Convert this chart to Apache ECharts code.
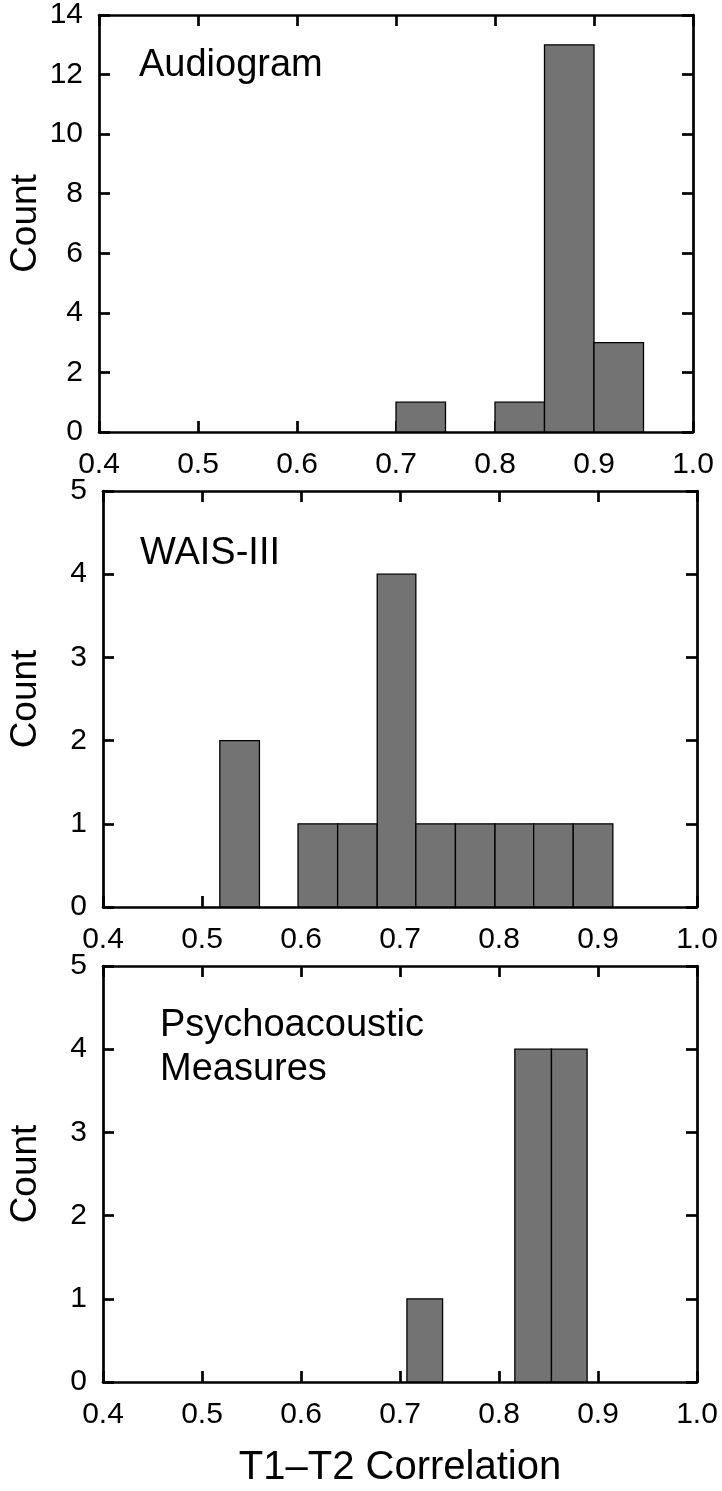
<!DOCTYPE html>
<html>
<head>
<meta charset="utf-8">
<script src="https://cdn.jsdelivr.net/npm/echarts@6/dist/echarts.min.js"></script>
<style>
html,body{margin:0;padding:0;background:#fff;}
#c{width:722px;height:1491px;}
</style>
</head>
<body>
<div id="c"></div>
<script>
// ---- data ----
var xTicks = [0.4, 0.5, 0.6, 0.7, 0.8, 0.9, 1.0];
var panelLabels = ['Audiogram', 'WAIS-III', 'Psychoacoustic\nMeasures'];
var yMax = [14, 5, 5];
var yStep = [2, 1, 1];

// Audiogram histogram (bin edges, counts)
var audiogramEdges = [0.70, 0.75, 0.80, 0.85, 0.90, 0.95];
var audiogramCounts = [1, 0, 1, 13, 3];

// WAIS-III histogram
var waisEdges = [0.518, 0.558, 0.597, 0.637, 0.677, 0.716, 0.756, 0.796, 0.835, 0.875, 0.915];
var waisCounts = [2, 0, 1, 1, 4, 1, 1, 1, 1, 1];

// Psychoacoustic measures histogram
var psychoEdges = [0.707, 0.743, 0.780, 0.816, 0.853, 0.889];
var psychoCounts = [1, 0, 0, 4, 4];

var xTitle = 'T1\u2013T2 Correlation';
var yTitle = 'Count';

// ---- layout ----
var FONT = 'Liberation Sans, Arial, Helvetica, sans-serif';
var grids = [
  {left: 99, top: 15, width: 594, height: 417, outerBoundsMode: 'none', containLabel: false},
  {left: 103, top: 491, width: 594, height: 416, outerBoundsMode: 'none', containLabel: false},
  {left: 103, top: 966, width: 594, height: 416, outerBoundsMode: 'none', containLabel: false}
];
var LINE = 2.7;

function binsData(edges, counts) {
  var d = [];
  for (var i = 0; i < counts.length; i++) {
    if (counts[i] > 0) d.push([edges[i], edges[i + 1], counts[i]]);
  }
  return d;
}
var allData = [
  binsData(audiogramEdges, audiogramCounts),
  binsData(waisEdges, waisCounts),
  binsData(psychoEdges, psychoCounts)
];

var xAxes = [], yAxes = [], series = [], graphics = [];
grids.forEach(function (g, i) {
  var common = {
    gridIndex: i, type: 'value', min: 0.4, max: 1.0, interval: 0.1,
    splitLine: {show: false},
    axisLine: {show: true, onZero: false, lineStyle: {color: '#000', width: LINE}},
    axisTick: {show: true, inside: true, length: 11, lineStyle: {color: '#000', width: LINE}}
  };
  xAxes.push(Object.assign({}, common, {
    position: 'bottom',
    axisLabel: {show: true, margin: 18, fontSize: 30, color: '#000', fontFamily: FONT,
      formatter: function (v) { return v.toFixed(1); }},
    name: i === 2 ? xTitle : '',
    nameLocation: 'middle', nameGap: 66, nameMoveOverlap: false,
    nameTextStyle: {fontSize: 40, color: '#000', fontFamily: FONT}
  }));
  xAxes.push(Object.assign({}, common, {position: 'top', axisLabel: {show: false}}));

  var ycommon = {
    gridIndex: i, type: 'value', min: 0, max: yMax[i], interval: yStep[i],
    splitLine: {show: false},
    axisLine: {show: true, onZero: false, lineStyle: {color: '#000', width: LINE}},
    axisTick: {show: true, inside: true, length: 11, lineStyle: {color: '#000', width: LINE}}
  };
  yAxes.push(Object.assign({}, ycommon, {
    position: 'left',
    axisLabel: {show: true, margin: 16, fontSize: 30, color: '#000', fontFamily: FONT},
    name: yTitle, nameLocation: 'middle', nameGap: g.left - 44, nameRotate: 90,
    nameMoveOverlap: false,
    nameTextStyle: {fontSize: 37, color: '#000', fontFamily: FONT}
  }));
  yAxes.push(Object.assign({}, ycommon, {position: 'right', axisLabel: {show: false}}));

  series.push({
    type: 'custom',
    xAxisIndex: i * 2, yAxisIndex: i * 2,
    data: allData[i],
    clip: true,
    renderItem: function (params, api) {
      var p0 = api.coord([api.value(0), 0]);
      var p1 = api.coord([api.value(1), api.value(2)]);
      return {
        type: 'rect',
        shape: {x: p0[0], y: p1[1], width: p1[0] - p0[0], height: p0[1] - p1[1]},
        style: {fill: '#737373', stroke: '#000', lineWidth: 1.3}
      };
    },
    z: 1
  });
});

var LBL = 38;
graphics.push({type: 'text', left: 139, top: 46,
  style: {text: panelLabels[0], fill: '#000', font: LBL + 'px ' + FONT, lineHeight: 40}});
graphics.push({type: 'text', left: 140, top: 534,
  style: {text: panelLabels[1], fill: '#000', font: LBL + 'px ' + FONT, lineHeight: 40}});
graphics.push({type: 'text', left: 160, top: 1004,
  style: {text: panelLabels[2], fill: '#000', font: LBL + 'px ' + FONT, lineHeight: 44}});

var chart = echarts.init(document.getElementById('c'), null, {renderer: 'canvas'});
chart.setOption({
  animation: false,
  backgroundColor: '#fff',
  grid: grids,
  xAxis: xAxes,
  yAxis: yAxes,
  series: series,
  graphic: graphics
});
</script>
</body>
</html>
